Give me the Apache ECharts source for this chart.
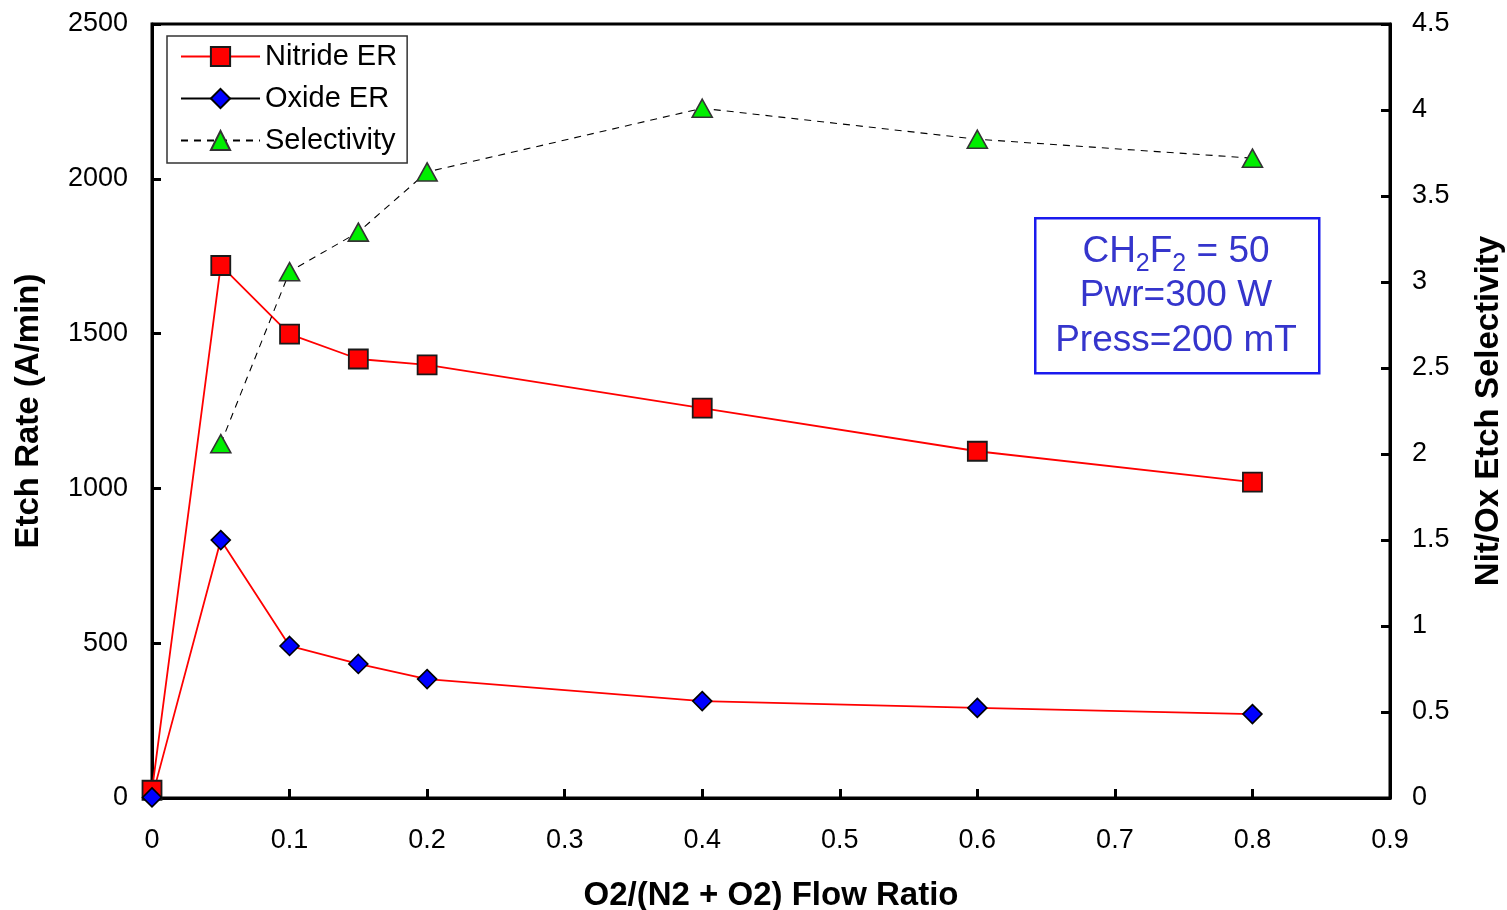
<!DOCTYPE html>
<html>
<head>
<meta charset="utf-8">
<title>Etch Rate vs O2 Flow Ratio</title>
<script src="https://cdn.jsdelivr.net/npm/echarts@6/dist/echarts.min.js"></script>
<style>
  html, body { margin: 0; padding: 0; background: #fff; overflow: hidden; }
  #chart { position: absolute; left: 0; top: 0; width: 1507px; height: 910px; }
</style>
</head>
<body>
<div id="chart"></div>
<script>
// O2/(N2+O2) flow ratio for each run
const flowRatio = [0, 0.05, 0.1, 0.15, 0.2, 0.4, 0.6, 0.8];
// Etch rates (A/min)
const nitrideER = [25, 1720, 1498, 1418, 1399, 1259, 1120, 1020];
const oxideER = [2, 833, 491, 433, 384, 313, 291, 271];
// Nitride/oxide selectivity (no value at ratio 0)
const selectivity = [null, 2.06, 3.06, 3.29, 3.64, 4.01, 3.83, 3.72];

const seriesNames = ['Nitride ER', 'Oxide ER', 'Selectivity'];
const conditionLines = ['Pwr=300 W', 'Press=200 mT'];

const FONT = "'Liberation Sans', Arial, Helvetica, sans-serif";
const NOTE_BLUE = '#3535cc';

function pairs(xs, ys) {
  const out = [];
  xs.forEach((x, i) => { if (ys[i] !== null) out.push([x, ys[i]]); });
  return out;
}

const axisLineStyle = { lineStyle: { color: '#000', width: 3 } };
const tickStyle = { show: true, inside: true, length: 9, lineStyle: { color: '#000', width: 3 } };
const plainNumber = v => String(+v.toFixed(2));

const chart = echarts.init(document.getElementById('chart'), null, {
  renderer: 'canvas', width: 1507, height: 910
});

chart.setOption({
  backgroundColor: '#fff',
  animation: false,
  textStyle: { fontFamily: FONT },
  grid: {
    left: 152, right: 117, top: 24, bottom: 112,
    containLabel: false,
    outerBoundsMode: 'none',
    show: true, borderColor: '#000', borderWidth: 3, backgroundColor: 'transparent'
  },
  legend: {
    orient: 'vertical',
    left: 167, top: 36,
    padding: [6, 10, 8, 13],
    itemGap: 13,
    itemWidth: 79,
    itemHeight: 24,
    borderColor: '#333', borderWidth: 1.5,
    backgroundColor: '#fff',
    textStyle: { fontFamily: FONT, fontSize: 29, color: '#000', lineHeight: 28 },
    data: [
      { name: seriesNames[0] },
      { name: seriesNames[1], lineStyle: { color: '#000' } },
      { name: seriesNames[2] }
    ]
  },
  xAxis: {
    type: 'value',
    min: 0, max: 0.9, interval: 0.1,
    name: 'O2/(N2 + O2) Flow Ratio',
    nameLocation: 'middle',
    nameGap: 81,
    nameTextStyle: { fontFamily: FONT, fontSize: 33, fontWeight: 'bold', color: '#000' },
    axisLine: axisLineStyle,
    axisTick: tickStyle,
    splitLine: { show: false },
    axisLabel: { fontFamily: FONT, fontSize: 27, color: '#000', margin: 29, formatter: plainNumber }
  },
  yAxis: [
    {
      type: 'value',
      min: 0, max: 2500, interval: 500,
      position: 'left',
      name: 'Etch Rate (A/min)',
      nameLocation: 'middle',
      nameRotate: 90,
      nameGap: 107,
      nameTextStyle: { fontFamily: FONT, fontSize: 33, fontWeight: 'bold', color: '#000' },
      axisLine: { show: true, ...axisLineStyle },
      axisTick: tickStyle,
      splitLine: { show: false },
      axisLabel: { fontFamily: FONT, fontSize: 27, color: '#000', margin: 24, formatter: plainNumber }
    },
    {
      type: 'value',
      min: 0, max: 4.5, interval: 0.5,
      position: 'right',
      name: 'Nit/Ox Etch Selectivity',
      nameLocation: 'middle',
      nameRotate: 90,
      nameGap: 82,
      nameTextStyle: { fontFamily: FONT, fontSize: 33, fontWeight: 'bold', color: '#000' },
      axisLine: { show: true, ...axisLineStyle },
      axisTick: tickStyle,
      splitLine: { show: false },
      axisLabel: { fontFamily: FONT, fontSize: 27, color: '#000', margin: 22, formatter: plainNumber }
    }
  ],
  series: [
    {
      name: seriesNames[0],
      type: 'line',
      yAxisIndex: 0,
      data: pairs(flowRatio, nitrideER),
      symbol: 'rect',
      symbolSize: 19,
      lineStyle: { color: '#ff0000', width: 1.8 },
      itemStyle: { color: '#ff0000', borderColor: '#1a1a1a', borderWidth: 1.8 },
      z: 3
    },
    {
      name: seriesNames[1],
      type: 'line',
      yAxisIndex: 0,
      data: pairs(flowRatio, oxideER),
      symbol: 'diamond',
      symbolSize: 19,
      lineStyle: { color: '#ff0000', width: 1.8 },
      itemStyle: { color: '#0000ff', borderColor: '#000', borderWidth: 1.6 },
      z: 3
    },
    {
      name: seriesNames[2],
      type: 'line',
      yAxisIndex: 1,
      data: pairs(flowRatio, selectivity),
      symbol: 'triangle',
      symbolSize: [20, 18],
      lineStyle: { color: '#000', width: 1.1, type: [7, 6] },
      itemStyle: { color: '#00ee00', borderColor: '#333', borderWidth: 1.6 },
      z: 4
    }
  ],
  graphic: [
    {
      type: 'rect',
      left: 1034, top: 217,
      shape: { width: 284, height: 155 },
      style: { fill: '#fff', stroke: '#1a1aee', lineWidth: 2.5 },
      z: 10
    },
    {
      type: 'text',
      x: 1176, y: 252,
      style: {
        text: '{m|CH}{s|2}{m|F}{s|2}{m| = 50}',
        align: 'center', verticalAlign: 'middle',
        rich: {
          m: { fontFamily: FONT, fontSize: 37, fill: NOTE_BLUE, lineHeight: 68 },
          s: { fontFamily: FONT, fontSize: 25, fill: NOTE_BLUE, lineHeight: 44, padding: [24, 0, 0, 0] }
        }
      },
      z: 11
    },
    {
      type: 'text',
      x: 1176, y: 318.5,
      style: {
        text: conditionLines.join('\n'),
        align: 'center', verticalAlign: 'middle',
        fontFamily: FONT, fontSize: 37, lineHeight: 44.5, fill: NOTE_BLUE
      },
      z: 11
    }
  ]
});
</script>
</body>
</html>
